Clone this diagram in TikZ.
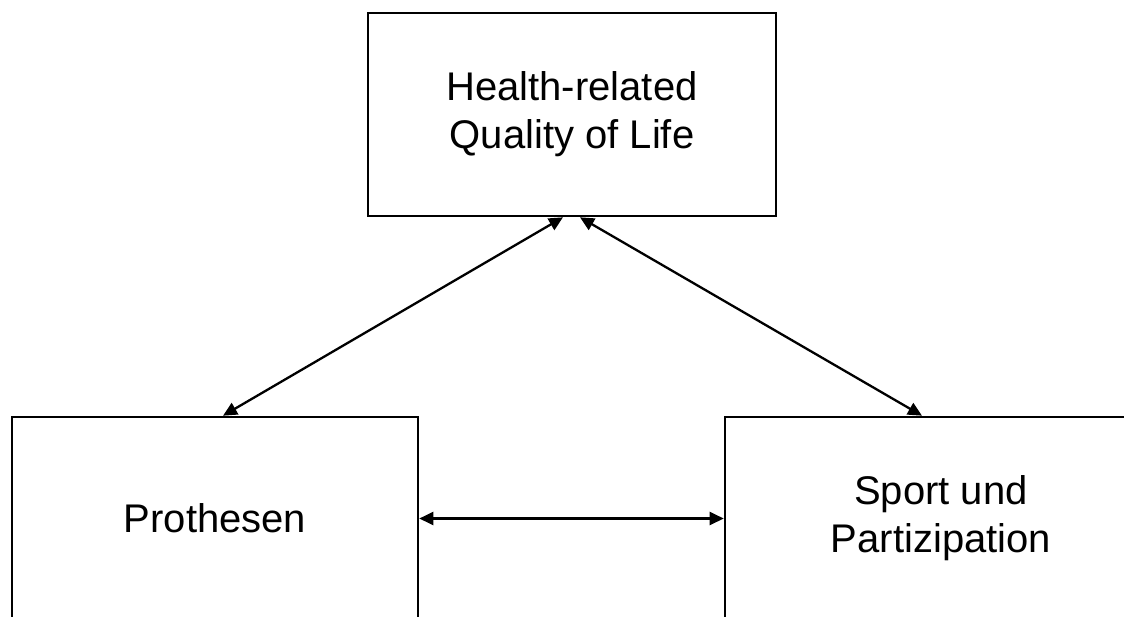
\documentclass[tikz,border=0pt]{standalone}
\usepackage{fontspec}
\setmainfont{Liberation Sans}
\usetikzlibrary{arrows.meta}
\begin{document}
\begin{tikzpicture}[x=1pt,y=-1pt,
  box/.style={draw=black,line width=2.6pt,fill=white,inner sep=0pt,align=center,
    font=\fontsize{40}{48}\selectfont},
  link/.style={line width=2.3pt,{Triangle[length=14pt,width=13pt]}-{Triangle[length=14pt,width=13pt]}}]
\useasboundingbox (0,0) rectangle (1124,616);
\clip (0,0) rectangle (1124,616);
\node[box,minimum width=408pt,minimum height=203pt] (T) at (572,114.5) {Health-related\\Quality of Life};
\node[box,minimum width=406pt,minimum height=203pt] (L) at (215,518.5) {Prothesen};
\node[box,minimum width=432pt,minimum height=203pt] (R) at (941,518.5) {Sport und\\Partizipation};
\draw[link] ([xshift=8pt]L.north) -- ([xshift=-9pt]T.south);
\draw[link] ([xshift=-19pt]R.north) -- ([xshift=8pt]T.south);
\draw[link] (L.east) -- (R.west);
\end{tikzpicture}
\end{document}
